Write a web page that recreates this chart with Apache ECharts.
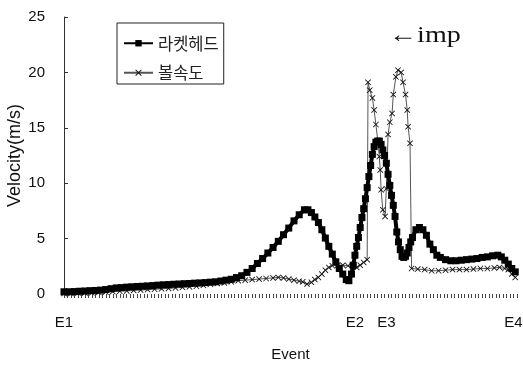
<!DOCTYPE html>
<html>
<head>
<meta charset="utf-8">
<script src="https://cdn.jsdelivr.net/npm/echarts@6.0.0/dist/echarts.min.js"></script>
</head>
<body style="margin:0; padding:0; background:#fff;">
<div id="chart" style="width:523px; height:365px;"></div>
<script type="text/javascript">
// sample index (x) and velocity (m/s)
const racketX = [0, 3, 6, 9, 12, 15, 18, 21, 24, 27, 30, 33, 36, 39, 42, 45, 48, 51, 54, 57, 60, 63, 66, 69, 72, 75, 78, 81, 84, 87, 90, 93, 96, 99, 102, 105, 108, 111, 114, 117, 120, 123, 126, 129, 132, 135, 138, 140, 142, 144, 146, 148, 150, 152, 154, 156, 158, 160, 162, 163.5, 165, 166, 167, 168, 169, 170, 171, 172, 173, 174, 175, 176, 177, 178, 179, 180, 181, 182, 183, 184, 185, 186, 187, 188, 189, 190, 191, 192, 193, 194, 195, 196, 197, 198, 199, 200, 202, 204, 206, 208, 210, 212, 214, 216, 219, 222, 225, 228, 231, 234, 237, 240, 243, 246, 249, 251, 253, 255, 257, 259];
const racketV = [0.2, 0.2, 0.22, 0.25, 0.27, 0.3, 0.32, 0.35, 0.4, 0.48, 0.55, 0.58, 0.62, 0.65, 0.68, 0.7, 0.73, 0.76, 0.8, 0.83, 0.85, 0.88, 0.9, 0.93, 0.95, 0.98, 1.0, 1.03, 1.07, 1.1, 1.17, 1.25, 1.33, 1.48, 1.65, 1.95, 2.3, 2.75, 3.2, 3.7, 4.2, 4.75, 5.35, 5.95, 6.6, 7.15, 7.6, 7.6, 7.35, 6.95, 6.45, 5.8, 5.05, 4.3, 3.6, 2.9, 2.3, 1.8, 1.3, 1.2, 1.8, 2.6, 3.5, 4.3, 5.1, 6.0, 6.9, 7.7, 8.6, 9.6, 10.6, 11.6, 12.6, 13.3, 13.7, 13.8, 13.8, 13.5, 13.0, 12.5, 11.8, 10.8, 9.8, 8.9, 8.0, 7.0, 5.6, 4.7, 4.0, 3.4, 3.3, 3.4, 3.7, 4.2, 4.7, 5.1, 5.8, 6.0, 5.8, 5.3, 4.5, 4.0, 3.5, 3.3, 3.1, 3.0, 3.0, 3.05, 3.1, 3.15, 3.2, 3.3, 3.35, 3.45, 3.5, 3.35, 3.05, 2.7, 2.3, 2.0];

const ballX = [0, 4, 8, 12, 16, 20, 24, 28, 32, 36, 40, 44, 48, 52, 56, 60, 64, 68, 72, 76, 80, 84, 88, 92, 96, 100, 104, 108, 112, 116, 120, 123, 126, 129, 132, 135, 137, 139.5, 142, 144, 146, 148, 150, 152, 154, 157, 160, 163, 166, 168, 170, 172, 174, 174.5, 175.5, 177, 178, 179, 180.3, 181, 181.5, 182, 183, 184.3, 185, 186, 187, 188.3, 189, 190.5, 191.7, 193.5, 194.6, 196, 197, 197.5, 198.6, 199.5, 203, 207, 211, 215, 219, 223, 227, 231, 235, 239, 243, 247, 250, 253, 255, 257, 259];
const ballV = [0.05, 0.05, 0.08, 0.1, 0.12, 0.15, 0.18, 0.22, 0.25, 0.28, 0.32, 0.35, 0.4, 0.43, 0.47, 0.5, 0.55, 0.6, 0.65, 0.7, 0.78, 0.88, 0.95, 1.0, 1.1, 1.2, 1.25, 1.3, 1.35, 1.4, 1.45, 1.5, 1.45, 1.35, 1.25, 1.15, 1.1, 0.9, 1.05, 1.3, 1.5, 1.8, 2.15, 2.4, 2.55, 2.6, 2.6, 2.55, 2.45, 2.4, 2.6, 2.85, 3.1, 19.1, 18.4, 17.7, 16.6, 15.3, 13.6, 12.4, 11.2, 9.4, 7.6, 7.0, 9.5, 14.4, 15.5, 16.3, 18.0, 19.6, 20.2, 20.0, 19.1, 18.0, 16.6, 15.1, 13.6, 2.3, 2.25, 2.2, 2.1, 2.1, 2.15, 2.2, 2.2, 2.2, 2.25, 2.3, 2.3, 2.35, 2.4, 2.3, 2.2, 1.8, 1.5];

const eventPos = [0, 167, 185, 258];
const eventLabels = ['E1', 'E2', 'E3', 'E4'];
const impPos = 185;
const seriesNames = ['라켓헤드', '볼속도'];

// one hatch tick per 2 samples along the event axis
const xTicks = [];
for (let t = 0; t <= 260; t += 2) xTicks.push(t);

const xMark = 'path://M0,1L1,0L5,4L9,0L10,1L6,5L10,9L9,10L5,6L1,10L0,9L4,5Z';

const option = {
	animation: false,
	backgroundColor: '#fff',
	textStyle: { fontFamily: 'Liberation Sans, Arial, sans-serif' },
	grid: { left: 64, right: 6, top: 17, bottom: 71, outerBoundsMode: 'none' },
	legend: {
		orient: 'vertical',
		left: 117,
		top: 23,
		padding: [12, 5, 3, 6],
		itemGap: 13,
		itemWidth: 29,
		itemHeight: 8,
		borderColor: '#222',
		borderWidth: 1,
		textStyle: { fontSize: 16.5, color: '#222', fontFamily: 'Noto Sans CJK KR' },
		data: seriesNames
	},
	xAxis: {
		type: 'value',
		min: 0,
		max: 260,
		interval: 2,
		name: 'Event',
		nameLocation: 'middle',
		nameGap: 53,
		nameMoveOverlap: false,
		nameTextStyle: { fontSize: 15, color: '#111' },
		axisLine: { show: true, lineStyle: { color: '#fff', width: 0 } },
		axisTick: { show: true, length: 4, customValues: xTicks, lineStyle: { color: '#444' } },
		splitLine: { show: false },
		axisLabel: {
			customValues: eventPos,
			margin: 21,
			fontSize: 15,
			color: '#111',
			formatter: (v) => eventLabels[eventPos.indexOf(v)] || ''
		}
	},
	yAxis: {
		type: 'value',
		min: 0,
		max: 25,
		interval: 5,
		name: 'Velocity(m/s)',
		nameLocation: 'middle',
		nameGap: 40,
		nameMoveOverlap: false,
		nameTextStyle: { fontSize: 18, color: '#111' },
		axisLine: { show: true, lineStyle: { color: '#333' } },
		axisTick: { show: true, inside: true, length: 4, lineStyle: { color: '#333' } },
		splitLine: { show: false },
		axisLabel: { margin: 19, fontSize: 15, color: '#111' }
	},
	series: [
		{
			name: seriesNames[0],
			type: 'line',
			data: racketX.map((x, i) => [x, racketV[i]]),
			symbol: 'rect',
			symbolSize: 7,
			showAllSymbol: true,
			itemStyle: { color: '#000' },
			lineStyle: { color: '#000', width: 4 },
			z: 3
		},
		{
			name: seriesNames[1],
			type: 'line',
			data: ballX.map((x, i) => [x, ballV[i]]),
			symbol: xMark,
			symbolSize: 6,
			showAllSymbol: true,
			itemStyle: { color: '#111' },
			lineStyle: { color: '#555', width: 1 },
			z: 2,
			markLine: {
				silent: true,
				symbol: ['none', 'none'],
				label: { show: false },
				lineStyle: { color: '#555', width: 1, type: 'solid' },
				data: [[{ coord: [impPos, 0] }, { coord: [impPos, 25.4] }]]
			}
		}
	],
	graphic: [{
		type: 'text',
		x: 389,
		y: 24,
		scaleX: 1.17,
		style: {
			text: '←imp',
			font: '24px "Liberation Serif", serif',
			fill: '#111'
		}
	}]
};

var myChart = echarts.init(document.getElementById('chart'));
myChart.setOption(option);
</script>
</body>
</html>
